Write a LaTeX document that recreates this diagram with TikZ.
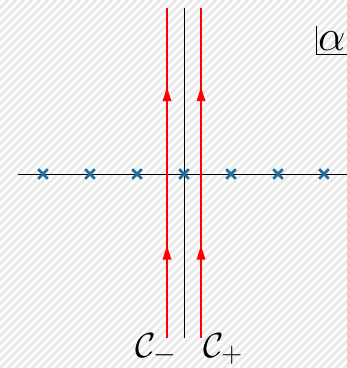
\documentclass[tikz,border=0pt]{standalone}
\usepackage{amsmath}
\usepackage{amssymb}
\usetikzlibrary{positioning, arrows.meta, shapes.misc, decorations.markings}
\definecolor{ink}{HTML}{000000}
\definecolor{contour}{HTML}{FF0000}
\definecolor{polec}{HTML}{1B6E9E}
\definecolor{stripe}{HTML}{E8E8E8}
\newcommand{\bigsym}[2][1.4]{\scalebox{#1}{$#2$}}
\tikzset{
  axis/.style={line width=0.9pt, color=ink},
  pole/.style={cross out, draw=polec, line width=2.6pt, minimum size=7pt, inner sep=0pt},
  path/.style={line width=1.8pt, color=contour,
    postaction={decorate, decoration={markings,
      mark=at position 0.28 with {\arrow{Triangle[length=14pt, width=8.5pt]}},
      mark=at position 0.76 with {\arrow{Triangle[length=14pt, width=8.5pt]}}}}},
  lbl/.style={font=\Huge, inner sep=0pt},
}

\begin{document}
\begin{tikzpicture}[x=1pt, y=-1pt]
  % hatched background
  \fill[white] (0,0) rectangle (347,368);
  \begin{scope}
    \clip (0,0) rectangle (347,368);
    \foreach \s in {-368,-360,...,352}
      \draw[stripe, line width=2.6pt] (\s,368) -- ({\s+368},0);
  \end{scope}
  \useasboundingbox (0,0) rectangle (347,368);

  % axes
  \coordinate (xl) at (18,174);
  \coordinate (xr) at (347,174);
  \coordinate (yb) at (184,338);
  \coordinate (yt) at (184,8);
  \draw[axis] (xl) -- (xr);
  \draw[axis] (yb) -- (yt);

  % poles on the real line
  \foreach \i/\x in {1/43, 2/90, 3/137, 4/184, 5/231, 6/278, 7/324}
    \node[pole] (p\i) at (\x,174) {};

  % contours
  \coordinate (mb) at (167,338);
  \coordinate (mt) at (167,8);
  \coordinate (pb) at (201,338);
  \coordinate (pt) at (201,8);
  \draw[path] (mb) -- (mt);
  \draw[path] (pb) -- (pt);
  \node[lbl] (cm) at (156,349) {\bigsym{\mathcal{C}_-}};
  \node[lbl] (cp) at (223,349) {\bigsym{\mathcal{C}_+}};

  % plane label
  \coordinate (lt) at (316,26);
  \coordinate (lc) at (316,54);
  \coordinate (lr) at (347,54);
  \draw[axis] (lt) -- (lc) -- (lr);
  \node[lbl, anchor=base west] (al) at (318,50) {\bigsym[1.75]{\alpha}};
\end{tikzpicture}
\end{document}
